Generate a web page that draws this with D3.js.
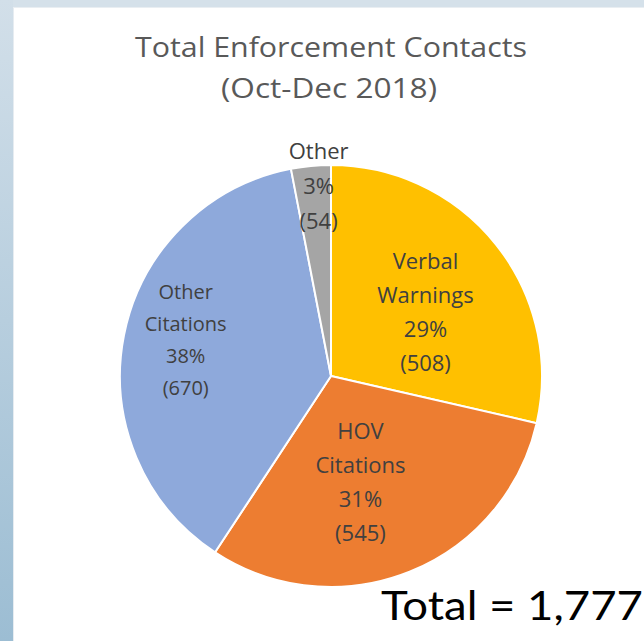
<!DOCTYPE html>
<html>
<head>
<meta charset="utf-8">
<script src="https://cdn.jsdelivr.net/npm/d3@7"></script>
<style>
  body { margin: 0; background: #ffffff; }
  svg { display: block; }
</style>
</head>
<body>
<svg id="chart" width="644" height="641"></svg>
<script>
const categories = ["Verbal Warnings", "HOV Citations", "Other Citations", "Other"];
const values = [508, 545, 670, 54];
const percentLabels = ["29%", "31%", "38%", "3%"];
const nameLines = [["Verbal", "Warnings"], ["HOV", "Citations"], ["Other", "Citations"], ["Other"]];
const colors = ["#FFC000", "#ED7D31", "#8EA9DB", "#A5A5A5"];
const titleLines = ["Total Enforcement Contacts", "(Oct-Dec 2018)"];
const totalLabel = "Total = 1,777";

const svg = d3.select("#chart");
const W = 644, H = 641;

// background frame
const defs = svg.append("defs");
const grad = defs.append("linearGradient").attr("id", "side").attr("x1", 0).attr("y1", 0).attr("x2", 0).attr("y2", 1);
grad.append("stop").attr("offset", "0%").attr("stop-color", "#d2dfe9");
grad.append("stop").attr("offset", "100%").attr("stop-color", "#9cbdd3");
svg.append("rect").attr("width", W).attr("height", H).attr("fill", "#ffffff");
svg.append("rect").attr("x", 0).attr("y", 0).attr("width", W).attr("height", 7).attr("fill", "#d5e1ea");
svg.append("rect").attr("x", 0).attr("y", 0).attr("width", 13).attr("height", H).attr("fill", "url(#side)");
svg.append("line").attr("x1", 13.5).attr("x2", 13.5).attr("y1", 7).attr("y2", H).attr("stroke", "#e6ecf1").attr("stroke-width", 1);
svg.append("line").attr("x1", 13).attr("x2", W).attr("y1", 7.5).attr("y2", 7.5).attr("stroke", "#e9eef2").attr("stroke-width", 1);

// title
const titleG = svg.append("g").attr("font-family", "'Open Sans', sans-serif").attr("fill", "#595959");
titleG.append("text").attr("x", 331).attr("y", 57).attr("text-anchor", "middle")
  .attr("font-size", 27).attr("textLength", 392).attr("lengthAdjust", "spacingAndGlyphs").text(titleLines[0]);
titleG.append("text").attr("x", 329).attr("y", 98).attr("text-anchor", "middle")
  .attr("font-size", 27).attr("textLength", 216).attr("lengthAdjust", "spacingAndGlyphs").text(titleLines[1]);

// pie
const cx = 331, cy = 376, R = 211;
const pie = d3.pie().sort(null).value(d => d)(values);
const arc = d3.arc().innerRadius(0).outerRadius(R);
const g = svg.append("g").attr("transform", `translate(${cx},${cy})`);
g.selectAll("path").data(pie).join("path")
  .attr("d", arc)
  .attr("fill", (d, i) => colors[i])
  .attr("stroke", "#ffffff").attr("stroke-width", 2).attr("stroke-linejoin", "round");

// labels
const labelRadiusFrac = [0.54, 0.52, 0.71, 0.90];
const labelFont = [22, 22, 20, 22];
const lineGap = [34, 34, 32, 35];
const labelAngleShift = [0.08, 0.11, 0.05, 0.03];
pie.forEach((d, i) => {
  const mid = (d.startAngle + d.endAngle) / 2 + labelAngleShift[i];
  const r = R * labelRadiusFrac[i];
  const x = Math.sin(mid) * r;
  const y = -Math.cos(mid) * r;
  const lines = nameLines[i].concat([percentLabels[i], `(${values[i]})`]);
  const n = lines.length;
  const t = g.append("text").attr("text-anchor", "middle")
    .attr("font-family", "'Open Sans', sans-serif").attr("font-size", labelFont[i]).attr("fill", "#404040");
  lines.forEach((ln, k) => {
    t.append("tspan").attr("x", x).attr("y", y + (k - (n - 1) / 2) * lineGap[i] + labelFont[i] * 0.36).text(ln);
  });
});

// total
svg.append("text").attr("x", 381).attr("y", 620)
  .attr("font-family", "Lato, sans-serif").attr("font-weight", 400).attr("font-size", 40).attr("fill", "#000000")
  .attr("textLength", 262).attr("lengthAdjust", "spacingAndGlyphs").text(totalLabel);
</script>
</body>
</html>
